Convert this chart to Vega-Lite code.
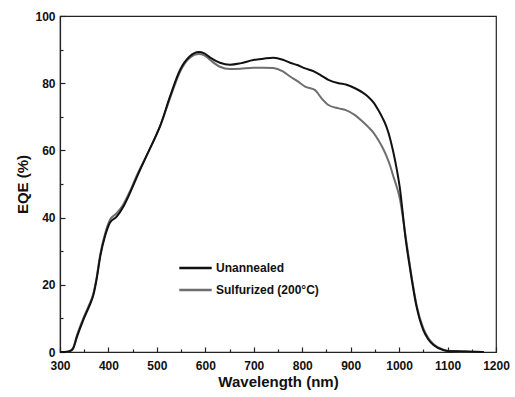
{
  "$schema": "https://vega.github.io/schema/vega-lite/v6.json",
  "width": 436,
  "height": 336,
  "autosize": {"type": "none"},
  "padding": {"left": 60, "top": 16, "right": 19, "bottom": 45},
  "background": "white",
  "config": {
    "view": {"stroke": "#222", "strokeWidth": 1.2},
    "font": "Liberation Sans",
    "axis": {
      "domainColor": "#222",
      "domainWidth": 1.2,
      "tickColor": "#222",
      "tickWidth": 1.2,
      "grid": false,
      "labelFont": "Liberation Sans",
      "labelFontWeight": "bold",
      "labelFontSize": 12,
      "labelColor": "#111",
      "titleFont": "Liberation Sans",
      "titleFontWeight": "bold",
      "titleFontSize": 15,
      "titleColor": "#111"
    }
  },
  "data": {
    "values": [
      {"wl": 300, "eqe": 0, "s": "Sulfurized (200°C)"},
      {"wl": 310, "eqe": 0, "s": "Sulfurized (200°C)"},
      {"wl": 320, "eqe": 0.3, "s": "Sulfurized (200°C)"},
      {"wl": 327, "eqe": 1.2, "s": "Sulfurized (200°C)"},
      {"wl": 335, "eqe": 5, "s": "Sulfurized (200°C)"},
      {"wl": 348, "eqe": 10, "s": "Sulfurized (200°C)"},
      {"wl": 360, "eqe": 14, "s": "Sulfurized (200°C)"},
      {"wl": 369, "eqe": 17.5, "s": "Sulfurized (200°C)"},
      {"wl": 376, "eqe": 22.5, "s": "Sulfurized (200°C)"},
      {"wl": 383, "eqe": 29, "s": "Sulfurized (200°C)"},
      {"wl": 393, "eqe": 35.2, "s": "Sulfurized (200°C)"},
      {"wl": 403, "eqe": 39.3, "s": "Sulfurized (200°C)"},
      {"wl": 417, "eqe": 41.3, "s": "Sulfurized (200°C)"},
      {"wl": 431, "eqe": 44, "s": "Sulfurized (200°C)"},
      {"wl": 445, "eqe": 48, "s": "Sulfurized (200°C)"},
      {"wl": 460, "eqe": 53, "s": "Sulfurized (200°C)"},
      {"wl": 479, "eqe": 58.5, "s": "Sulfurized (200°C)"},
      {"wl": 500, "eqe": 65, "s": "Sulfurized (200°C)"},
      {"wl": 506, "eqe": 67, "s": "Sulfurized (200°C)"},
      {"wl": 527, "eqe": 75.5, "s": "Sulfurized (200°C)"},
      {"wl": 548, "eqe": 83.5, "s": "Sulfurized (200°C)"},
      {"wl": 568, "eqe": 87.6, "s": "Sulfurized (200°C)"},
      {"wl": 586, "eqe": 88.7, "s": "Sulfurized (200°C)"},
      {"wl": 598, "eqe": 88.3, "s": "Sulfurized (200°C)"},
      {"wl": 610, "eqe": 86.9, "s": "Sulfurized (200°C)"},
      {"wl": 630, "eqe": 84.9, "s": "Sulfurized (200°C)"},
      {"wl": 651, "eqe": 84.2, "s": "Sulfurized (200°C)"},
      {"wl": 672, "eqe": 84.3, "s": "Sulfurized (200°C)"},
      {"wl": 699, "eqe": 84.6, "s": "Sulfurized (200°C)"},
      {"wl": 720, "eqe": 84.6, "s": "Sulfurized (200°C)"},
      {"wl": 740, "eqe": 84.5, "s": "Sulfurized (200°C)"},
      {"wl": 760, "eqe": 83.5, "s": "Sulfurized (200°C)"},
      {"wl": 775, "eqe": 82.0, "s": "Sulfurized (200°C)"},
      {"wl": 790, "eqe": 80.6, "s": "Sulfurized (200°C)"},
      {"wl": 806, "eqe": 79.0, "s": "Sulfurized (200°C)"},
      {"wl": 826, "eqe": 78.0, "s": "Sulfurized (200°C)"},
      {"wl": 840, "eqe": 75.5, "s": "Sulfurized (200°C)"},
      {"wl": 854, "eqe": 73.5, "s": "Sulfurized (200°C)"},
      {"wl": 875, "eqe": 72.5, "s": "Sulfurized (200°C)"},
      {"wl": 890, "eqe": 72.0, "s": "Sulfurized (200°C)"},
      {"wl": 909, "eqe": 70.5, "s": "Sulfurized (200°C)"},
      {"wl": 925, "eqe": 68.5, "s": "Sulfurized (200°C)"},
      {"wl": 936, "eqe": 67, "s": "Sulfurized (200°C)"},
      {"wl": 947, "eqe": 65.3, "s": "Sulfurized (200°C)"},
      {"wl": 957, "eqe": 63.1, "s": "Sulfurized (200°C)"},
      {"wl": 966, "eqe": 60.8, "s": "Sulfurized (200°C)"},
      {"wl": 974, "eqe": 58.3, "s": "Sulfurized (200°C)"},
      {"wl": 982, "eqe": 55.2, "s": "Sulfurized (200°C)"},
      {"wl": 988, "eqe": 52.3, "s": "Sulfurized (200°C)"},
      {"wl": 995, "eqe": 49.2, "s": "Sulfurized (200°C)"},
      {"wl": 1002, "eqe": 45.3, "s": "Sulfurized (200°C)"},
      {"wl": 1007, "eqe": 40.8, "s": "Sulfurized (200°C)"},
      {"wl": 1012, "eqe": 35.8, "s": "Sulfurized (200°C)"},
      {"wl": 1023, "eqe": 25, "s": "Sulfurized (200°C)"},
      {"wl": 1036, "eqe": 14, "s": "Sulfurized (200°C)"},
      {"wl": 1050, "eqe": 7, "s": "Sulfurized (200°C)"},
      {"wl": 1060, "eqe": 4.2, "s": "Sulfurized (200°C)"},
      {"wl": 1071, "eqe": 2.3, "s": "Sulfurized (200°C)"},
      {"wl": 1091, "eqe": 0.7, "s": "Sulfurized (200°C)"},
      {"wl": 1100, "eqe": 0.4, "s": "Sulfurized (200°C)"},
      {"wl": 1119, "eqe": 0.2, "s": "Sulfurized (200°C)"},
      {"wl": 1150, "eqe": 0.1, "s": "Sulfurized (200°C)"},
      {"wl": 1175, "eqe": 0, "s": "Sulfurized (200°C)"},
      {"wl": 300, "eqe": 0, "s": "Unannealed"},
      {"wl": 310, "eqe": 0, "s": "Unannealed"},
      {"wl": 320, "eqe": 0.2, "s": "Unannealed"},
      {"wl": 327, "eqe": 1.0, "s": "Unannealed"},
      {"wl": 335, "eqe": 4.5, "s": "Unannealed"},
      {"wl": 348, "eqe": 9.5, "s": "Unannealed"},
      {"wl": 360, "eqe": 13.5, "s": "Unannealed"},
      {"wl": 369, "eqe": 17, "s": "Unannealed"},
      {"wl": 376, "eqe": 22, "s": "Unannealed"},
      {"wl": 383, "eqe": 28.4, "s": "Unannealed"},
      {"wl": 393, "eqe": 34.5, "s": "Unannealed"},
      {"wl": 403, "eqe": 38.5, "s": "Unannealed"},
      {"wl": 417, "eqe": 40.3, "s": "Unannealed"},
      {"wl": 431, "eqe": 43.3, "s": "Unannealed"},
      {"wl": 445, "eqe": 47.5, "s": "Unannealed"},
      {"wl": 460, "eqe": 52.5, "s": "Unannealed"},
      {"wl": 479, "eqe": 58.5, "s": "Unannealed"},
      {"wl": 500, "eqe": 65, "s": "Unannealed"},
      {"wl": 506, "eqe": 67, "s": "Unannealed"},
      {"wl": 527, "eqe": 76, "s": "Unannealed"},
      {"wl": 548, "eqe": 84, "s": "Unannealed"},
      {"wl": 568, "eqe": 88, "s": "Unannealed"},
      {"wl": 586, "eqe": 89.3, "s": "Unannealed"},
      {"wl": 598, "eqe": 88.9, "s": "Unannealed"},
      {"wl": 610, "eqe": 87.6, "s": "Unannealed"},
      {"wl": 630, "eqe": 86.1, "s": "Unannealed"},
      {"wl": 651, "eqe": 85.5, "s": "Unannealed"},
      {"wl": 672, "eqe": 85.9, "s": "Unannealed"},
      {"wl": 699, "eqe": 86.9, "s": "Unannealed"},
      {"wl": 720, "eqe": 87.3, "s": "Unannealed"},
      {"wl": 740, "eqe": 87.6, "s": "Unannealed"},
      {"wl": 760, "eqe": 87.0, "s": "Unannealed"},
      {"wl": 775, "eqe": 86.1, "s": "Unannealed"},
      {"wl": 790, "eqe": 85.4, "s": "Unannealed"},
      {"wl": 806, "eqe": 84.4, "s": "Unannealed"},
      {"wl": 826, "eqe": 83.4, "s": "Unannealed"},
      {"wl": 840, "eqe": 82.2, "s": "Unannealed"},
      {"wl": 854, "eqe": 81.0, "s": "Unannealed"},
      {"wl": 875, "eqe": 80.0, "s": "Unannealed"},
      {"wl": 890, "eqe": 79.6, "s": "Unannealed"},
      {"wl": 909, "eqe": 78.5, "s": "Unannealed"},
      {"wl": 925, "eqe": 77.2, "s": "Unannealed"},
      {"wl": 936, "eqe": 76.0, "s": "Unannealed"},
      {"wl": 947, "eqe": 74.3, "s": "Unannealed"},
      {"wl": 957, "eqe": 72, "s": "Unannealed"},
      {"wl": 966, "eqe": 69.6, "s": "Unannealed"},
      {"wl": 974, "eqe": 67, "s": "Unannealed"},
      {"wl": 982, "eqe": 63.2, "s": "Unannealed"},
      {"wl": 988, "eqe": 59.5, "s": "Unannealed"},
      {"wl": 995, "eqe": 54.5, "s": "Unannealed"},
      {"wl": 1002, "eqe": 48.3, "s": "Unannealed"},
      {"wl": 1007, "eqe": 42, "s": "Unannealed"},
      {"wl": 1012, "eqe": 35.4, "s": "Unannealed"},
      {"wl": 1023, "eqe": 24.4, "s": "Unannealed"},
      {"wl": 1036, "eqe": 13.5, "s": "Unannealed"},
      {"wl": 1050, "eqe": 6.5, "s": "Unannealed"},
      {"wl": 1060, "eqe": 3.8, "s": "Unannealed"},
      {"wl": 1071, "eqe": 2.1, "s": "Unannealed"},
      {"wl": 1091, "eqe": 0.6, "s": "Unannealed"},
      {"wl": 1100, "eqe": 0.3, "s": "Unannealed"},
      {"wl": 1119, "eqe": 0.2, "s": "Unannealed"},
      {"wl": 1150, "eqe": 0.1, "s": "Unannealed"},
      {"wl": 1175, "eqe": 0, "s": "Unannealed"}
    ]
  },
  "mark": {"type": "line", "interpolate": "monotone", "strokeWidth": 2},
  "encoding": {
    "x": {
      "field": "wl",
      "type": "quantitative",
      "scale": {"domain": [300, 1200], "nice": false, "zero": false},
      "axis": {
        "title": "Wavelength (nm)",
        "format": "d",
        "values": [300, 350, 400, 450, 500, 550, 600, 650, 700, 750, 800, 850, 900, 950, 1000, 1050, 1100, 1150, 1200],
        "labelExpr": "datum.value % 100 === 0 ? datum.label : ''",
        "tickSize": {"condition": {"test": "datum.value % 100 === 0", "value": -5}, "value": -3},
        "labelPadding": 13,
        "titlePadding": 3,
        "labelFlush": false
      }
    },
    "y": {
      "field": "eqe",
      "type": "quantitative",
      "scale": {"domain": [0, 100], "nice": false},
      "axis": {
        "title": "EQE (%)",
        "values": [0, 10, 20, 30, 40, 50, 60, 70, 80, 90, 100],
        "labelExpr": "datum.value % 20 === 0 ? datum.label : ''",
        "tickSize": {"condition": {"test": "datum.value % 20 === 0", "value": -5}, "value": -3},
        "labelPadding": 10,
        "titlePadding": 4,
        "labelFlush": false
      }
    },
    "color": {
      "field": "s",
      "type": "nominal",
      "scale": {"domain": ["Unannealed", "Sulfurized (200°C)"], "range": ["#111111", "#6e6e6e"]},
      "legend": {
        "title": null,
        "orient": "none",
        "legendX": 118,
        "legendY": 246,
        "symbolType": "stroke",
        "symbolSize": 1050,
        "symbolStrokeWidth": 2.5,
        "labelFont": "Liberation Sans",
        "labelFontWeight": "bold",
        "labelFontSize": 12,
        "labelColor": "#111",
        "clipHeight": 12,
        "rowPadding": 10,
        "labelOffset": 3
      }
    }
  }
}
